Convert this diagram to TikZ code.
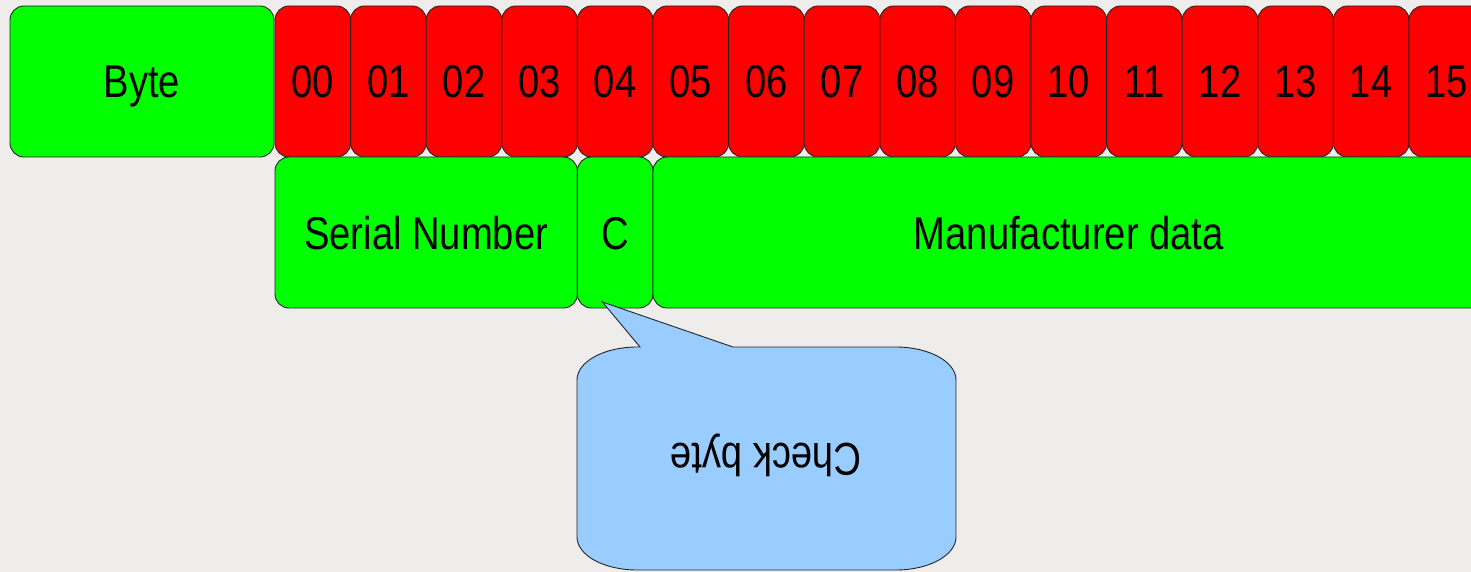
\documentclass[tikz,border=0pt]{standalone}
\usepackage{fontspec}
\setmainfont[FakeStretch=0.83]{Liberation Sans}
\usetikzlibrary{calc}
\definecolor{bg}{RGB}{238,237,236}
\definecolor{fieldgreen}{RGB}{0,255,0}
\definecolor{bytered}{RGB}{255,0,0}
\definecolor{noteblue}{RGB}{153,204,255}
\begin{document}
\begin{tikzpicture}[x=1pt,y=-1pt,
  cell/.style={draw=black!85, line width=0.9pt, rounded corners=14pt,
    inner sep=0pt, outer sep=0pt, anchor=north west, minimum height=151pt,
    font=\fontsize{46}{50}\selectfont, text height=33pt, text depth=0pt},
  bytecell/.style={cell, fill=bytered, minimum width=75.6pt},
  fieldcell/.style={cell, fill=fieldgreen},
  note/.style={draw=black!85, line width=0.9pt, fill=noteblue},
  notetext/.style={rotate=180, font=\fontsize{46}{50}\selectfont,
    text height=33pt, text depth=0pt, inner sep=0pt}]
\clip (0,0) rectangle (1471,572);
\fill[bg] (0,0) rectangle (1471,572);

% header row: label and the sixteen byte indices
\node[fieldcell, minimum width=264pt] (byte) at (10,6) {Byte};
\foreach \lbl [count=\k from 0] in {00,01,02,03,04,05,06,07,08,09,10,11,12,13,14,15}
  \node[bytecell] (b\k) at ({275+\k*75.6},6) {\lbl};

% field row under the bytes
\node[fieldcell, minimum width=302.4pt] (serial) at (b0.south west) {Serial Number};
\node[fieldcell, minimum width=75.6pt] (C) at (b4.south west) {C};
\node[fieldcell, minimum width=831.6pt] (manuf) at (b5.south west) {Manufacturer data};

% speech bubble pointing at the check byte
\coordinate (tip) at ($(C.south west)+(25,-6)$);
\draw[note] (640,347) -- (tip) -- (733,347) -- (896,347)
  arc[start angle=270, end angle=360, x radius=60, y radius=33] -- (956,537)
  arc[start angle=0, end angle=90, x radius=60, y radius=33] -- (637,570)
  arc[start angle=90, end angle=180, x radius=60, y radius=33] -- (577,380)
  arc[start angle=180, end angle=270, x radius=60, y radius=33] -- cycle;
\node[notetext] (check) at (766,460) {Check byte};
\end{tikzpicture}
\end{document}
